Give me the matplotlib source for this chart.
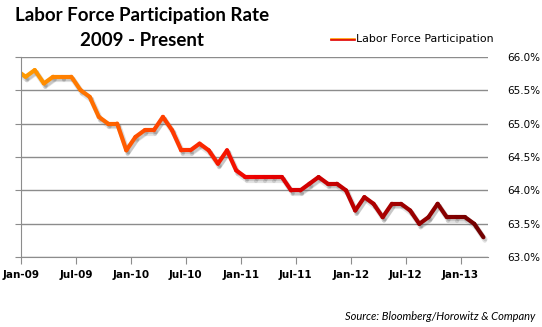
import numpy as np
import matplotlib
matplotlib.use('Agg')
from matplotlib import pyplot as plt
from matplotlib.collections import LineCollection
from matplotlib.colors import LinearSegmentedColormap
from matplotlib.lines import Line2D
import matplotlib.patheffects as pe
import matplotlib.transforms as mtransforms

# monthly participation rate, Dec-08 .. Mar-13 (Dec-08 sits left of the axis and is clipped)
rate = [65.8,
        65.7, 65.8, 65.6, 65.7, 65.7, 65.7, 65.5, 65.4, 65.1, 65.0, 65.0, 64.6,
        64.8, 64.9, 64.9, 65.1, 64.9, 64.6, 64.6, 64.7, 64.6, 64.4, 64.6, 64.3,
        64.2, 64.2, 64.2, 64.2, 64.2, 64.0, 64.0, 64.1, 64.2, 64.1, 64.1, 64.0,
        63.7, 63.9, 63.8, 63.6, 63.8, 63.8, 63.7, 63.5, 63.6, 63.8, 63.6, 63.6,
        63.6, 63.5, 63.3]
tick_labels = ['Jan-09', 'Jul-09', 'Jan-10', 'Jul-10', 'Jan-11',
               'Jul-11', 'Jan-12', 'Jul-12', 'Jan-13']
y_ticks = [63.0, 63.5, 64.0, 64.5, 65.0, 65.5, 66.0]

x = np.arange(len(rate)) - 1
y = np.array(rate)

fig = plt.figure(figsize=(5.42, 3.27), dpi=100)
ax = fig.add_axes([21/542, 69.7/327, 467/542, 200.6/327])

cmap = LinearSegmentedColormap.from_list('lfp', [(0.0, '#FF9A00'), (0.35, '#FF3300'),
                                                  (0.5, '#EE0000'), (0.7, '#C00000'),
                                                  (1.0, '#700000')])
pts = np.column_stack([x, y]).reshape(-1, 1, 2)
segs = np.concatenate([pts[:-1], pts[1:]], axis=1)
lc = LineCollection(segs, cmap=cmap, linewidths=3.0, capstyle='round', joinstyle='round')
lc.set_array((x[:-1] + x[1:]) / 2 / 50.0)
lc.set_clim(0, 1)
lc.set_path_effects([pe.SimpleLineShadow(offset=(1.0, -2.5), shadow_color='#666666', alpha=0.18),
                     pe.SimpleLineShadow(offset=(1.5, -1.5), shadow_color='#666666', alpha=0.22),
                     pe.Normal()])
ax.add_collection(lc)

ax.set_xlim(-0.5, 50.5)
ax.set_ylim(63.0, 66.0)
ax.set_xticks(np.arange(len(tick_labels)) * 6 - 0.5)
ax.set_xticklabels(tick_labels, fontweight='bold', fontsize=7.5, family='DejaVu Sans')
shift = mtransforms.ScaledTranslation(4/100, 0, fig.dpi_scale_trans)
for lab in ax.get_xticklabels():
    lab.set_transform(lab.get_transform() + shift)
ax.set_yticks(y_ticks)
ax.set_yticklabels(['%.1f%%' % v for v in y_ticks], fontsize=7.5)
ax.yaxis.grid(True, color='#8c8c8c', linewidth=1)
ax.set_axisbelow(True)
ax.tick_params(axis='y', left=True, right=False, labelleft=False, labelright=True,
               length=4, color='#8c8c8c', pad=10)
ax.tick_params(axis='x', length=5, color='#8c8c8c', pad=4)
for s in ['top', 'right']:
    ax.spines[s].set_visible(False)
for s in ['left', 'bottom']:
    ax.spines[s].set_color('#8c8c8c')

fig.text(142/542, 1 - 15/327, 'Labor Force Participation Rate', ha='center', va='center',
         fontsize=13.5, fontweight='bold', family='Lato')
fig.text(142/542, 1 - 40/327, '2009 - Present', ha='center', va='center',
         fontsize=13.5, fontweight='bold', family='Lato')

# legend: two-tone line sample + label
ly = 1 - 39.3/327
fig.add_artist(Line2D([331/542, 355/542], [ly + 0.7/327, ly + 0.7/327], color='#FF9A00', linewidth=1.2))
fig.add_artist(Line2D([331/542, 355/542], [ly - 0.7/327, ly - 0.7/327], color='#E00000', linewidth=1.2))
fig.text(356/542, ly, 'Labor Force Participation', ha='left', va='center',
         fontsize=7.9, family='DejaVu Sans')

fig.text(535/542, 1 - 317/327, 'Source: Bloomberg/Horowitz & Company', ha='right', va='center',
         fontsize=8, style='italic', family='Lato')

fig.savefig('out.png', dpi=100)
